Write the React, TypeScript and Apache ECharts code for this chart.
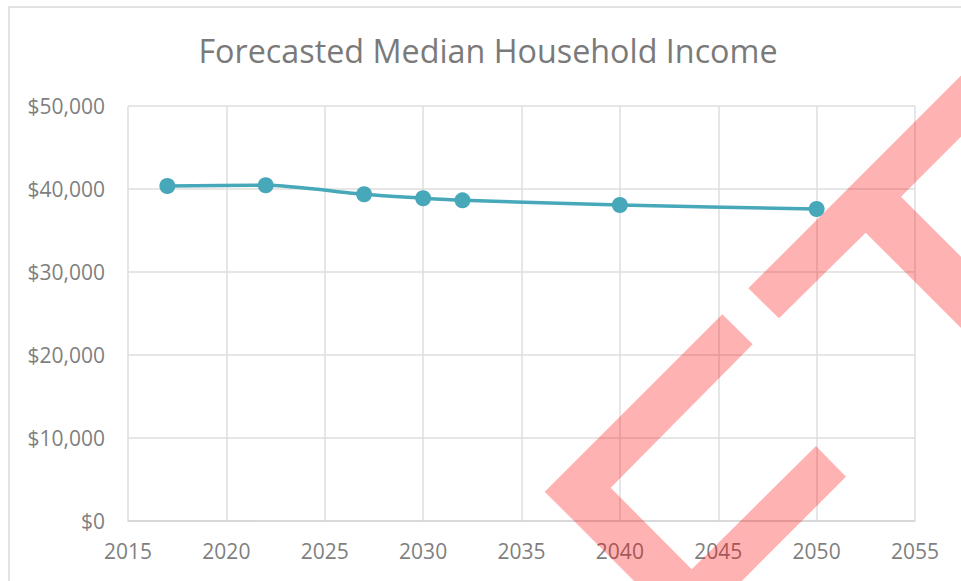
import React, { useEffect, useRef } from "react";
import * as echarts from "echarts";

const years = [2017, 2022, 2027, 2030, 2032, 2040, 2050];
const income = [40350, 40440, 39350, 38870, 38620, 38060, 37580];
const xTicks = { min: 2015, max: 2055, interval: 5 };
const yTicks = { min: 0, max: 50000, interval: 10000 };
const titleText = "Forecasted Median Household Income";

const watermarkC = [
  [752.7, 344.3], [722.3, 314.3], [544.7, 491.7], [688, 635], [846, 476.7], [816, 446], [691.7, 569.3], [610.7, 487.7],
];
const watermarkT = [
  [748.3, 288.3], [1010, 26.6], [1040, 57.7], [901, 196.7], [1040, 335.7], [1040, 407], [865.7, 232.7], [779, 318.3],
];

export default function App() {
  const ref = useRef<HTMLDivElement>(null);
  useEffect(() => {
    if (!ref.current) return;
    const chart = echarts.init(ref.current, null, { renderer: "svg" });
    const font = "'Open Sans', sans-serif";
    chart.setOption({
      animation: false,
      backgroundColor: "#ffffff",
      grid: { left: 128, right: 46, top: 106, bottom: 60.5, containLabel: false },
      xAxis: {
        type: "value",
        min: xTicks.min,
        max: xTicks.max,
        interval: xTicks.interval,
        axisLine: { show: true, lineStyle: { color: "#d4d4d4", width: 1.5 } },
        axisTick: { show: false },
        splitLine: { show: true, lineStyle: { color: "#dedede", width: 1.5 } },
        axisLabel: { color: "#7f7f7f", fontSize: 21, fontFamily: font, margin: 20, formatter: (v: number) => String(v) },
      },
      yAxis: {
        type: "value",
        min: yTicks.min,
        max: yTicks.max,
        interval: yTicks.interval,
        axisLine: { show: false },
        axisTick: { show: false },
        splitLine: { show: true, lineStyle: { color: "#dedede", width: 1.5 } },
        axisLabel: {
          color: "#7f7f7f",
          fontSize: 21,
          fontFamily: font,
          margin: 23,
          formatter: (v: number) => "$" + v.toLocaleString("en-US"),
        },
      },
      series: [
        {
          type: "line",
          data: years.map((y, i) => [y, income[i]]),
          smooth: 0.25,
          symbol: "circle",
          symbolSize: 16,
          lineStyle: { color: "#46a8b8", width: 3.5 },
          itemStyle: { color: "#46a8b8" },
          z: 3,
        },
      ],
      graphic: [
        {
          type: "rect",
          shape: { x: 9, y: 7, width: 1000, height: 700 },
          style: { fill: "none", stroke: "#d9d9d9", lineWidth: 1.5 },
          silent: true,
          z: 0,
        },
        {
          type: "text",
          x: 488,
          y: 50,
          style: {
            text: titleText,
            fill: "#7a7a7a",
            fontSize: 32.3,
            fontFamily: font,
            textAlign: "center",
            textVerticalAlign: "middle",
          },
          z: 1,
        },
        {
          type: "polygon",
          shape: { points: watermarkC },
          style: { fill: "rgba(255,0,0,0.3)" },
          silent: true,
          z: 1,
        },
        {
          type: "polygon",
          shape: { points: watermarkT },
          style: { fill: "rgba(255,0,0,0.3)" },
          silent: true,
          z: 1,
        },
      ],
    });
    return () => chart.dispose();
  }, []);
  return (
    <div
      ref={ref}
      style={{ position: "absolute", left: 0, top: 0, width: 961, height: 581 }}
    />
  );
}
